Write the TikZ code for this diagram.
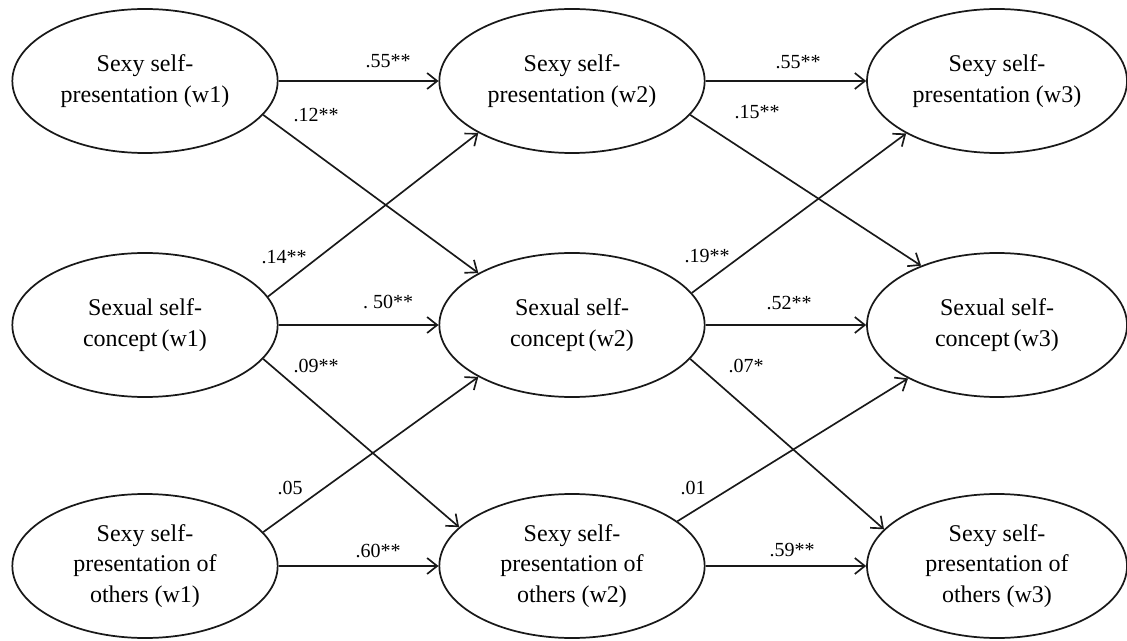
\documentclass[tikz,border=0pt]{standalone}
\usepackage{fontspec}
\setmainfont{Liberation Serif}
\usetikzlibrary{shapes.geometric,arrows.meta}
\begin{document}
\begin{tikzpicture}[x=0.75pt,y=-0.75pt,
  var/.style={ellipse,draw=black!90,line width=1.3pt,minimum width=199pt,minimum height=108pt,inner sep=0pt,align=center,font=\fontsize{18}{23}\selectfont},
  varr/.style={var,minimum width=195pt},
  coef/.style={inner sep=0pt,font=\fontsize{15}{16}\selectfont},
  conn/.style={draw=black!90,line width=1.25pt,-{Straight Barb[length=7.5pt,width=12pt]}}]
\useasboundingbox (0,0) rectangle (1127,641);
% column 1
\node[var] (a1) at (145,81) {Sexy self-\\presentation (w1)};
\node[var] (b1) at (145,325) {Sexual self-\\concept\,(w1)};
\node[var] (c1) at (145,566) {Sexy self-\\presentation of\\others (w1)};
% column 2
\node[var] (a2) at (572,81) {Sexy self-\\presentation (w2)};
\node[var] (b2) at (572,325) {Sexual self-\\concept\,(w2)};
\node[var] (c2) at (572,566) {Sexy self-\\presentation of\\others (w2)};
% column 3
\node[varr] (a3) at (997,81) {Sexy self-\\presentation (w3)};
\node[varr] (b3) at (997,325) {Sexual self-\\concept\,(w3)};
\node[varr] (c3) at (997,566) {Sexy self-\\presentation of\\others (w3)};
% horizontal paths
\draw[conn] (a1) -- (a2);
\draw[conn] (b1) -- (b2);
\draw[conn] (c1) -- (c2);
\draw[conn] (a2) -- (a3);
\draw[conn] (b2) -- (b3);
\draw[conn] (c2) -- (c3);
% cross-lagged paths
\draw[conn] (a1.-16) -- (b2.151);
\draw[conn] (b1.13) -- (a2.209);
\draw[conn] (b1.-16) -- (c2.161);
\draw[conn] (c1.16) -- (b2.209);
\draw[conn] (a2.-16) -- (b3.142);
\draw[conn] (b2.15) -- (a3.210);
\draw[conn] (b2.-16) -- (c3.162);
\draw[conn] (c2.23) -- (b3.211);
% coefficients
\node[coef] (k1) at (388,61) {.55**};
\node[coef] (k2) at (316,115) {.12**};
\node[coef] (k3) at (798,62) {.55**};
\node[coef] (k4) at (757,112) {.15**};
\node[coef] (k5) at (284,257) {.14**};
\node[coef] (k6) at (388,302) {.\ 50**};
\node[coef] (k7) at (316,366) {.09**};
\node[coef] (k8) at (707,256) {.19**};
\node[coef] (k9) at (789,303) {.52**};
\node[coef] (k10) at (746,366) {.07*};
\node[coef] (k11) at (290,488) {.05};
\node[coef] (k12) at (378,551) {.60**};
\node[coef] (k13) at (693,488) {.01};
\node[coef] (k14) at (792,550) {.59**};
\end{tikzpicture}
\end{document}
